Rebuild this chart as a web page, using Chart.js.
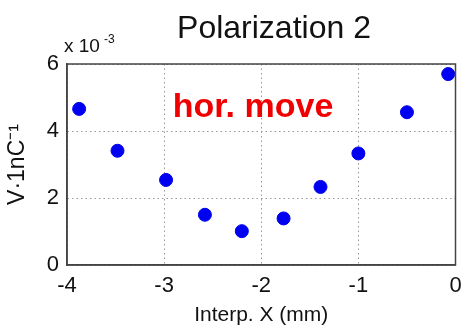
<!DOCTYPE html>
<html>
<head>
<meta charset="utf-8">
<script src="https://cdn.jsdelivr.net/npm/chart.js@4"></script>
<style>
    html, body { margin: 0; padding: 0; background: #fff; }
    #wrap { width: 463px; height: 332px; }
</style>
</head>
<body>
<div id="wrap"><canvas id="polChart" width="463" height="332"></canvas></div>
<script>
// Interpolated horizontal position (mm) and signal per charge (x 10^-3)
const interpX = [-3.875, -3.48, -2.98, -2.58, -2.20, -1.77, -1.39, -1.00, -0.50, -0.075];
const signal = [4.66, 3.41, 2.54, 1.50, 1.01, 1.39, 2.33, 3.33, 4.56, 5.70];
const xTicks = [-4, -3, -2, -1, 0];
const yTicks = [0, 2, 4, 6];

const titleText = 'Polarization 2';
const noteText = 'hor. move';

window.addEventListener('load', () => {

    // Frame, title, exponent and note drawn on top of the plot
    const decorations = {
        id: 'decorations',
        afterDraw(chart) {
            const { ctx, chartArea: a } = chart;
            ctx.save();

            ctx.strokeStyle = '#444';
            ctx.lineWidth = 1.5;
            ctx.strokeRect(a.left, a.top, a.right - a.left, a.bottom - a.top);

            ctx.fillStyle = '#111';
            ctx.textBaseline = 'alphabetic';
            ctx.textAlign = 'center';
            ctx.font = '32px "Liberation Sans", Arial, sans-serif';
            ctx.fillText(titleText, 274, 38);

            ctx.textAlign = 'left';
            ctx.font = '19px "Liberation Sans", Arial, sans-serif';
            ctx.fillText('x 10', 64, 52);
            ctx.font = '12px "Liberation Sans", Arial, sans-serif';
            ctx.fillText('-3', 104, 43);

            ctx.fillStyle = '#f00000';
            ctx.textAlign = 'center';
            ctx.font = 'bold 34px "Liberation Sans", Arial, sans-serif';
            ctx.fillText(noteText, 253, 117);

            ctx.restore();
        }
    };

    const ctx = document.getElementById('polChart');
    new Chart(ctx, {
        type: 'scatter',
        data: {
            datasets: [{
                data: interpX.map((x, i) => ({ x: x, y: signal[i] })),
                backgroundColor: '#0000f0',
                borderColor: '#0000f0',
                pointRadius: 6.5,
                pointHoverRadius: 6.5
            }]
        },
        options: {
            responsive: false,
            animation: false,
            layout: { padding: { top: 64, right: 3, left: 0, bottom: 0 } },
            plugins: {
                legend: { display: false },
                tooltip: { enabled: false }
            },
            scales: {
                x: {
                    type: 'linear',
                    min: -4,
                    max: 0,
                    afterBuildTicks: scale => { scale.ticks = xTicks.map(v => ({ value: v })); },
                    afterFit: scale => {
                        scale.height = 67;
                        scale.paddingLeft = 0;
                        scale.paddingRight = 0;
                    },
                    grid: {
                        color: '#999',
                        lineWidth: 1,
                        drawTicks: false
                    },
                    border: { display: true, color: '#444', width: 1.5, dash: [1.5, 3] },
                    ticks: {
                        color: '#111',
                        padding: 8,
                        maxRotation: 0,
                        font: { size: 22, family: '"Liberation Sans", Arial, sans-serif' }
                    },
                    title: {
                        display: true,
                        text: 'Interp. X (mm)',
                        color: '#111',
                        padding: { top: 0, bottom: 4 },
                        font: { size: 21, family: '"Liberation Sans", Arial, sans-serif' }
                    }
                },
                y: {
                    min: 0,
                    max: 6,
                    afterBuildTicks: scale => { scale.ticks = yTicks.map(v => ({ value: v })); },
                    afterFit: scale => { scale.width = 67; },
                    grid: {
                        color: '#999',
                        lineWidth: 1,
                        drawTicks: false
                    },
                    border: { display: true, color: '#444', width: 1.5, dash: [1.5, 3] },
                    ticks: {
                        color: '#111',
                        padding: 8,
                        font: { size: 22, family: '"Liberation Sans", Arial, sans-serif' }
                    },
                    title: {
                        display: true,
                        text: 'V·1nC⁻¹',
                        color: '#111',
                        padding: { top: 4, bottom: 0 },
                        font: { size: 23, family: '"Liberation Sans", Arial, sans-serif' }
                    }
                }
            }
        },
        plugins: [decorations]
    });
});
</script>
</body>
</html>
